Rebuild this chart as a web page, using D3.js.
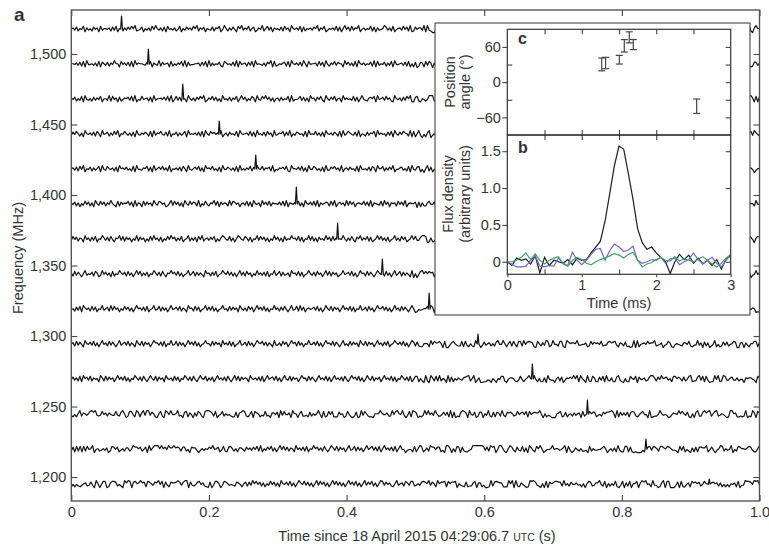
<!DOCTYPE html>
<html><head><meta charset="utf-8">
<script src="https://cdn.jsdelivr.net/npm/d3@7"></script>
<style>
body{margin:0;background:#fff}
text{font-family:"Liberation Sans",Arial,Helvetica,sans-serif;fill:#333}
</style>
</head><body>
<svg id="chart" width="769" height="547"></svg>
<script>
// ---------- DATA ----------
// channel centre frequencies (MHz), top trace first
const frequencies = [1517.7,1492.8,1468.0,1443.2,1418.4,1393.6,1368.7,1343.9,1319.1,1294.3,1269.5,1244.6,1219.8,1195.0];
// pulse arrival time (s) in each channel and its height (MHz-units offset)
const pulseTimes = [0.073,0.112,0.162,0.215,0.268,0.327,0.387,0.452,0.520,0.591,0.670,0.750,0.835,0.927];
const pulseHeights = [9.2,10.6,10.6,9.2,9.9,12.0,11.3,10.6,11.3,7.1,10.6,9.9,7.1,3.5];
// noise samples per channel (digits 0-9 around a 4.5 centre)
const noiseTraces = [
"4637254816352746183554627381542637485923471536284953627184536248153746385926471543726581495263741859364825713649258371645372846195463817254637592648135463827159472836591463548271634597362814563847291"+
"2746639193200305992181741359662904357290033429526059563073813232862794349076323382988075319525101901157383418793070215408914993488416750924476146066808226480016847741185374234544243710753907774499206955",
"5546372819445362817537264955184637281946554372816439274561825364829173445562738192635472186453729184562738194543627591823546728195463729518455628371942648375519473628195463547291835472638194456372815"+
"1702761838606261331384583000752044933826560297606737113200709328709127443747047230696977209310141692836819025515108657463772111252389784425056953696770785449969967946864454905987931636889230098793127736",
"6472538194352736481553928461724657382914384562719355647382914837265195362748591364837251945372648159472538619438594726156273548192445837261956274831953748256194645382715943267581945738462195462738591"+
"1782154249992295763514822082698951936680331825288693984964651058209392398294887933203625094431173012381970684161403970198376793206832823764648042953118023287825098194558153017567173613320698112509961818",
"3748526195463728519457263849154853627194364752819365843729154726358194546372819538574629146274538195456382719453728461934658273915376452819454836271954637528193586437291542736581946452738195374865291"+
"8159304169035159888851934580727386673858942287922849989208680582574927961048419844436346324496848756023362482704197862320900216099023530436994184914631409343173814364054625315209618369088870701676839642",
"5637284915472635819438546271956473528194436582719357483629154637285194357482619564835271944753628193536482719548365729143657482195547382619448635271933758462915637452819445372861955826374914467352819"+
"4378140592714563549061303107208510383750510115747704171898610687396965521267154688957035035402123407849819334321068170121005627880235193033224745015853904730419957777093503660416997329725088687696640355",
"5472615384726195384726495318274658371926518374629538746125938472619538476291538426593817465293874615638271954619473826554738291654738261954738291645762839157462938471565483729165438294716562847391565"+
"5707162268447162560798826517871341951246652010305921236677194325278675398558944896970964097545918569563802363701621120477427228364896134225164450781824423529486363721417402388934412479635743702637552944",
"3847265194627381549637284165938274615392746152839462715384957263814592637184925637481526974382615974386271549384726153947261835495638271549382617453947283615495263841759364827135948362714593628471359"+
"4833799801612549227850925778256209262264832627793338656648162772516401910590049164499828931505660472580277863186415519565324425869829469593080191529872117255634754639644791014590409058629849679128740687",
"6283741593547286139473618254964728361594826371549637284165957382614593582736419562738145964837261593728461539463728154935827346195638271459537284615938274613594573826149562837415964728361593582736419"+
"0504895858671747985466775757320568128845920541334053922000113786300945560688166740016984205580403363795376452030402432256613527836951177883863874439662532249850654995886234281899707733276171783928034946",
"4527381964628371549357293846153847261595637281459348273615945738264195628371459373826145945283746195362847159473826154946273841593482937156457382614953827461594638271549347283615955837261494628374159"+
"5014345588970719425863987727547109629537415211151368350627526023264847287039207643100595841166120545297030236472549296669381151373227536450988890313602057248176585118063036442812314965507047510254465011",
"5628374195473826159462837415935738264195382746159663728154934827361594738261459552837461946382714593472836159658372641933628471595728361549447382615956382741593528374619538274615946273814596473826159"+
"7272115551948668508003685322818315219600373562527944951582841882947876108526398139442881097566593344612847564823378678316527120190914564856692346034861045432664821339360726024914127372458700660631558817",
"4736281957382645196283746159473826154963728415953827461954628371549637284159548263715946372841593827465195463728159467382615943827461595628374159463827159463728415957382614953826471594638271549637281"+
"4881520920962829254091715364367892590360011330530548820466521384146951941511609433057270365759591953092186117381932611793105118548074462379962749567351885752724891227938183011949129833673362440656643086",
"31415926535897932384626433832795028841971693993751058209749445923078164062862089986280348253421170679821480865132823066470938446095505822317253594081284811174502841027019385211055596446229489549303819"+
"8602139494639522473719070217986094370277053921717629317675238467481846766940513200056812714526356082778577134275778960917363717872146844090122495343014654958537105079227968925892354201995611212902196086",
"27182818284590452353602874713526624977572470936999595749669676277240766303535475945713821785251664274637482915374826159483726519463728154957362841596382746159348273615946837281594637281594"+
"4034418159813629774771309960518707211349999998372978049951059731732816096318595024459455346908302642522308253344685035261931188171010003137838752886587533208381420617177669147303598253490428755468731159",
"14142135623730950488016887242096980785696718753769480731766797379907324784621070388503875343276415727395847261538472619547382615964837261593847261594837261594738261593748261598374621593"+
"56286388235378759375195778185778053217122680661300192787661119590921642019897320508075688772935274463415058723669428052538103806280558069794519330169088000370811461867572485756756261414154618033988749894"
];
const noiseStep = 0.55; // MHz per digit
const freqTicks = [1200,1250,1300,1350,1400,1450,1500];
const timeTicks = [0,0.2,0.4,0.6,0.8,1.0];

// panel c: position angle
const paTime = [1.268,1.320,1.504,1.571,1.638,1.692,2.543];
const paAngle = [30.2,32.6,38.2,61.9,76.3,64.0,-41.0];
const paError = [10.9,9.7,7.4,10.6,9.4,8.6,12.3];
const paTicks = [-60,0,60];

// panel b: pulse profiles sampled every 0.0625 ms from 0 to 3 ms
const profileStep = 0.0625;
const profileTotal = [0.0,-0.05,0.05,0.02,0.04,-0.03,0.08,-0.15,0.06,-0.05,0.02,0.0,-0.02,0.03,-0.04,0.05,0.02,0.03,0.12,0.2,0.28,0.55,0.92,1.3,1.57,1.53,1.2,0.85,0.45,0.26,0.17,0.2,0.12,0.06,0.0,-0.16,0.0,0.1,0.03,0.09,-0.02,0.05,-0.03,0.02,-0.05,0.03,-0.1,0.04,0.08];
const profileLinear = [0.0,-0.03,-0.07,-0.07,-0.06,0.02,0.08,-0.06,-0.07,-0.05,-0.06,0.05,-0.02,-0.05,0.13,0.02,-0.04,0.02,0.1,0.17,0.18,0.02,0.15,0.24,0.2,0.14,0.16,0.21,0.02,-0.02,0.0,0.03,0.02,0.06,-0.02,0.04,0.05,-0.04,0.0,0.03,0.12,0.03,-0.03,0.02,0.06,-0.02,-0.07,0.02,0.1];
const profileCircular = [0.0,0.0,0.02,0.06,0.12,0.03,0.11,0.02,-0.03,0.02,0.05,0.07,-0.03,-0.06,0.02,0.06,0.03,-0.02,-0.04,0.0,0.03,0.05,0.08,0.11,0.09,0.05,0.1,0.13,0.02,-0.07,-0.03,-0.01,0.03,0.06,0.02,0.01,0.07,0.01,0.04,0.02,0.0,0.03,0.07,0.02,-0.03,-0.07,-0.02,0.05,0.1];
const fluxTicks = [0,0.5,1,1.5];
const msTicks = [0,1,2,3];

// ---------- DRAW ----------
const svg = d3.select('#chart');
const FONT = '14.5px';
const M = {left:71.3, right:759.5, top:10, bottom:501};
const x = d3.scaleLinear().domain([0,1]).range([M.left,M.right]);
const y = d3.scaleLinear().domain([1183,1531.2]).range([M.bottom,M.top]);

function styleAxis(g, showDomain){
  if(!showDomain) g.select('.domain').remove();
  g.selectAll('.tick line').attr('stroke','#444').attr('stroke-width',1.1);
  g.selectAll('.tick text').style('font-size',FONT).attr('fill','#333')
   .style('font-family','"Liberation Sans",Arial,Helvetica,sans-serif');
}

// traces
const line = d3.line().x(p=>x(p.t)).y(p=>p.y);
frequencies.forEach((f,k)=>{
  const digits = noiseTraces[k].split('').map(Number);
  const n = digits.length;
  let pts = digits.map((d,i)=>({t:i/(n-1), v:(d-4.5)*noiseStep}));
  const tp = pulseTimes[k];
  pts = pts.filter(p=>Math.abs(p.t-tp)>0.002);
  pts.push({t:tp-0.0013, v:0},{t:tp, v:pulseHeights[k]},{t:tp+0.0013, v:0});
  pts.sort((a,b)=>a.t-b.t);
  pts.forEach(p=>p.y=y(f+p.v));
  svg.append('path').attr('d',line(pts)).attr('fill','none')
    .attr('stroke','#111').attr('stroke-width',1.2).attr('stroke-linejoin','round');
});

// axes main
svg.append('g').attr('transform',`translate(${M.left},0)`)
  .call(d3.axisLeft(y).tickValues(freqTicks).tickFormat(d3.format(',')).tickSize(-6).tickPadding(5))
  .call(g=>styleAxis(g));
svg.append('g').attr('transform',`translate(${M.right},0)`)
  .call(d3.axisRight(y).tickValues(freqTicks).tickFormat('').tickSize(-6))
  .call(g=>styleAxis(g));
svg.append('g').attr('transform',`translate(0,${M.bottom})`)
  .call(d3.axisBottom(x).tickValues(timeTicks).tickFormat(d=>d===0?'0':d3.format('.1f')(d)).tickSize(-6).tickPadding(6))
  .call(g=>styleAxis(g));
svg.append('g').attr('transform',`translate(0,${M.top})`)
  .call(d3.axisTop(x).tickValues(timeTicks).tickFormat('').tickSize(-6))
  .call(g=>styleAxis(g));
svg.append('rect').attr('x',M.left).attr('y',M.top).attr('width',M.right-M.left).attr('height',M.bottom-M.top)
  .attr('fill','none').attr('stroke','#555').attr('stroke-width',1.4);

svg.append('text').attr('x',14).attr('y',21).text('a').style('font-size','19px').style('font-weight','bold').attr('fill','#222');
svg.append('text').attr('transform','translate(23,258) rotate(-90)').attr('text-anchor','middle')
  .style('font-size',FONT).text('Frequency (MHz)');
const xt = svg.append('text').attr('x',417).attr('y',541).attr('text-anchor','middle').style('font-size',FONT);
xt.append('tspan').text('Time since 18 April 2015 04:29:06.7 ');
xt.append('tspan').text('UTC').style('font-size','10.5px');
xt.append('tspan').text(' (s)');

// ---------- INSET ----------
svg.append('rect').attr('x',435).attr('y',23).attr('width',315).attr('height',292)
  .attr('fill','#fff').attr('stroke','#444').attr('stroke-width',1.1);

const PX = {l:507.3, r:730.7};
const xi = d3.scaleLinear().domain([0,3]).range([PX.l,PX.r]);
const yC = d3.scaleLinear().domain([-90,90]).range([135,29.3]);
const yB = d3.scaleLinear().domain([-0.17,1.72]).range([274.3,135]);
const halfTicks = [0.5,1,1.5,2,2.5];

// panel c axes
svg.append('g').attr('transform',`translate(${PX.l},0)`)
  .call(d3.axisLeft(yC).tickValues(paTicks).tickFormat(d=>d<0?'\u2212'+(-d):String(d)).tickSize(5).tickPadding(1.5))
  .call(g=>styleAxis(g));
svg.append('g').attr('transform',`translate(${PX.l},0)`)
  .call(d3.axisLeft(yC).tickValues([-30,30]).tickFormat('').tickSize(-5)).call(g=>styleAxis(g));
svg.append('g').attr('transform',`translate(${PX.r},0)`)
  .call(d3.axisRight(yC).tickValues([-60,-30,0,30,60]).tickFormat('').tickSize(-5)).call(g=>styleAxis(g));
svg.append('g').attr('transform',`translate(0,29.3)`)
  .call(d3.axisTop(xi).tickValues(halfTicks).tickFormat('').tickSize(-5)).call(g=>styleAxis(g));
svg.append('g').attr('transform',`translate(0,135)`)
  .call(d3.axisBottom(xi).tickValues(halfTicks).tickFormat('').tickSize(-5)).call(g=>styleAxis(g));
svg.append('g').attr('transform',`translate(0,135)`)
  .call(d3.axisTop(xi).tickValues(halfTicks).tickFormat('').tickSize(-5)).call(g=>styleAxis(g));

// error bars
const eb = svg.append('g').attr('stroke','#444').attr('stroke-width',1.2);
paTime.forEach((t,i)=>{
  const cx = xi(t), y1 = yC(paAngle[i]+paError[i]), y2 = yC(paAngle[i]-paError[i]);
  eb.append('line').attr('x1',cx).attr('x2',cx).attr('y1',y1).attr('y2',y2);
  eb.append('line').attr('x1',cx-3.5).attr('x2',cx+3.5).attr('y1',y1).attr('y2',y1);
  eb.append('line').attr('x1',cx-3.5).attr('x2',cx+3.5).attr('y1',y2).attr('y2',y2);
});

// panel b axes
svg.append('g').attr('transform',`translate(${PX.l},0)`)
  .call(d3.axisLeft(yB).tickValues(fluxTicks).tickFormat(d=>d===0?'0':d3.format('.1f')(d)).tickSize(5).tickPadding(1.5))
  .call(g=>styleAxis(g));
svg.append('g').attr('transform',`translate(${PX.r},0)`)
  .call(d3.axisRight(yB).tickValues(fluxTicks).tickFormat('').tickSize(-5)).call(g=>styleAxis(g));
svg.append('g').attr('transform',`translate(0,274.3)`)
  .call(d3.axisBottom(xi).tickValues(msTicks).tickFormat(d3.format('d')).tickSize(3).tickPadding(2))
  .call(g=>styleAxis(g));
svg.append('g').attr('transform',`translate(0,274.3)`)
  .call(d3.axisBottom(xi).tickValues([0.5,1.5,2.5]).tickFormat('').tickSize(-5)).call(g=>styleAxis(g));

// profiles
const pline = d3.line().x((d,i)=>xi(i*profileStep)).y(d=>yB(d));
svg.append('path').attr('d',pline(profileTotal)).attr('fill','none').attr('stroke','#1e1e1e').attr('stroke-width',1.2);
svg.append('path').attr('d',pline(profileLinear)).attr('fill','none').attr('stroke','#7266cc').attr('stroke-width',1.2);
svg.append('path').attr('d',pline(profileCircular)).attr('fill','none').attr('stroke','#43a36b').attr('stroke-width',1.2);

// panel frames
svg.append('rect').attr('x',PX.l).attr('y',29.3).attr('width',PX.r-PX.l).attr('height',135-29.3)
  .attr('fill','none').attr('stroke','#333').attr('stroke-width',1.2);
svg.append('rect').attr('x',PX.l).attr('y',135).attr('width',PX.r-PX.l).attr('height',274.3-135)
  .attr('fill','none').attr('stroke','#333').attr('stroke-width',1.2);

// inset labels
svg.append('text').attr('x',518).attr('y',44).text('c').style('font-size','16px').style('font-weight','bold').attr('fill','#222');
svg.append('text').attr('x',518).attr('y',153).text('b').style('font-size','16px').style('font-weight','bold').attr('fill','#222');
svg.append('text').attr('transform','translate(455,82) rotate(-90)').attr('text-anchor','middle').style('font-size',FONT).text('Position');
svg.append('text').attr('transform','translate(470,82) rotate(-90)').attr('text-anchor','middle').style('font-size',FONT).text('angle (°)');
svg.append('text').attr('transform','translate(453,194) rotate(-90)').attr('text-anchor','middle').style('font-size',FONT).text('Flux density');
svg.append('text').attr('transform','translate(470,194) rotate(-90)').attr('text-anchor','middle').style('font-size',FONT).text('(arbitrary units)');
svg.append('text').attr('x',619).attr('y',308).attr('text-anchor','middle').style('font-size',FONT).text('Time (ms)');
</script>
</body></html>
